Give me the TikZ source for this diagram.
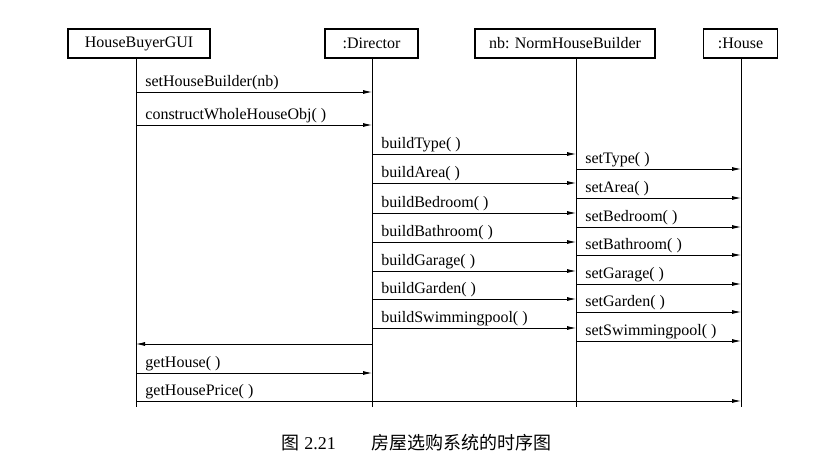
\documentclass[tikz,border=0pt]{standalone}
\usepackage{fontspec}
\setmainfont{Liberation Serif}
\newfontfamily\cjk{Noto Sans CJK SC}
\usetikzlibrary{arrows.meta}

\begin{document}
\begin{tikzpicture}[x=1pt, y=-1pt,
	obj/.style = {draw, line width=1.3pt, minimum height=29pt, inner sep=0pt, font=\fontsize{16}{18}\selectfont},
	life/.style = {line width=0.8pt},
	msg/.style = {-{Latex[length=9pt, width=4pt]}, line width=0.8pt},
	lbl/.style = {anchor=base west, inner sep=0pt, xshift=9pt, yshift=6pt, font=\fontsize{16}{18}\selectfont}]

	\useasboundingbox (0, 0) rectangle (821, 463);

	% objects
	\node[obj, minimum width=142pt] (gui) at (139, 43.5) {HouseBuyerGUI};
	\node[obj, minimum width=93pt] (dir) at (371.5, 43.5) {:Director};
	\node[obj, minimum width=180pt] (nhb) at (565, 43.5) {nb: NormHouseBuilder};
	\node[obj, minimum width=74pt] (house) at (740.5, 43.5) {:House};

	% lifelines
	\coordinate (guiL) at (136, 407);
	\coordinate (dirL) at (372, 407);
	\coordinate (nhbL) at (576, 407);
	\coordinate (houseL) at (741, 407);

	\draw[life] (gui.south -| guiL) -- (guiL);
	\draw[life] (dir.south -| dirL) -- (dirL);
	\draw[life] (nhb.south -| nhbL) -- (nhbL);
	\draw[life] (house.south -| houseL) -- (houseL);

	% message heights
	\coordinate (m1) at (0, 92);
	\coordinate (m2) at (0, 125);
	\coordinate (b1) at (0, 154);
	\coordinate (b2) at (0, 183);
	\coordinate (b3) at (0, 213);
	\coordinate (b4) at (0, 242);
	\coordinate (b5) at (0, 271);
	\coordinate (b6) at (0, 299);
	\coordinate (b7) at (0, 328);
	\coordinate (s1) at (0, 169);
	\coordinate (s2) at (0, 198);
	\coordinate (s3) at (0, 227);
	\coordinate (s4) at (0, 255);
	\coordinate (s5) at (0, 284);
	\coordinate (s6) at (0, 312);
	\coordinate (s7) at (0, 341);
	\coordinate (r1) at (0, 344);
	\coordinate (g1) at (0, 373);
	\coordinate (g2) at (0, 401);

	\draw[msg] (guiL |- m1) -- (dirL |- m1) node[lbl, pos=0] {setHouseBuilder(nb)};
	\draw[msg] (guiL |- m2) -- (dirL |- m2) node[lbl, pos=0] {constructWholeHouseObj( )};

	\draw[msg] (dirL |- b1) -- (nhbL |- b1) node[lbl, pos=0] {buildType( )};
	\draw[msg] (dirL |- b2) -- (nhbL |- b2) node[lbl, pos=0] {buildArea( )};
	\draw[msg] (dirL |- b3) -- (nhbL |- b3) node[lbl, pos=0] {buildBedroom( )};
	\draw[msg] (dirL |- b4) -- (nhbL |- b4) node[lbl, pos=0] {buildBathroom( )};
	\draw[msg] (dirL |- b5) -- (nhbL |- b5) node[lbl, pos=0] {buildGarage( )};
	\draw[msg] (dirL |- b6) -- (nhbL |- b6) node[lbl, pos=0] {buildGarden( )};
	\draw[msg] (dirL |- b7) -- (nhbL |- b7) node[lbl, pos=0] {buildSwimmingpool( )};

	\draw[msg] (nhbL |- s1) -- (houseL |- s1) node[lbl, pos=0] {setType( )};
	\draw[msg] (nhbL |- s2) -- (houseL |- s2) node[lbl, pos=0] {setArea( )};
	\draw[msg] (nhbL |- s3) -- (houseL |- s3) node[lbl, pos=0] {setBedroom( )};
	\draw[msg] (nhbL |- s4) -- (houseL |- s4) node[lbl, pos=0] {setBathroom( )};
	\draw[msg] (nhbL |- s5) -- (houseL |- s5) node[lbl, pos=0] {setGarage( )};
	\draw[msg] (nhbL |- s6) -- (houseL |- s6) node[lbl, pos=0] {setGarden( )};
	\draw[msg] (nhbL |- s7) -- (houseL |- s7) node[lbl, pos=0] {setSwimmingpool( )};

	\draw[msg] (dirL |- r1) -- (guiL |- r1);
	\draw[msg] (guiL |- g1) -- (dirL |- g1) node[lbl, pos=0] {getHouse( )};
	\draw[msg] (guiL |- g2) -- (houseL |- g2) node[lbl, pos=0] {getHousePrice( )};

	% caption
	\node[anchor=base east, inner sep=0pt, font=\fontsize{18}{21}\selectfont] (cap) at (552, 449)
		{{\cjk 图} 2.21\hspace{2em}{\cjk 房屋选购系统的时序图}};

\end{tikzpicture}
\end{document}
